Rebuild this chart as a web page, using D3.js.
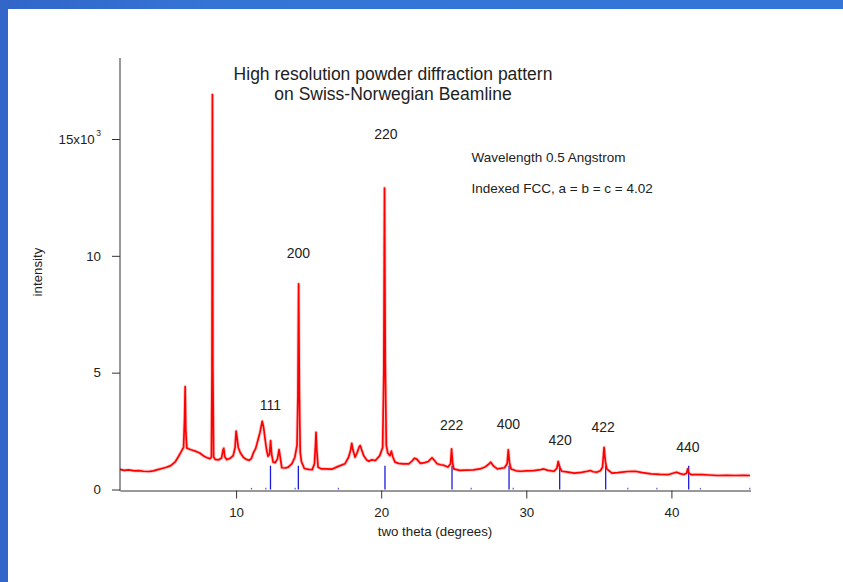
<!DOCTYPE html>
<html>
<head>
<meta charset="utf-8">
<script src="https://cdn.jsdelivr.net/npm/d3@7"></script>
<style>
  html, body { margin: 0; padding: 0; background: #ffffff; }
  svg { display: block; }
  text { font-family: "Liberation Sans", Arial, sans-serif; fill: #222; }
</style>
</head>
<body>
<div id="chart"></div>
<script>
// ---- data ----
const twoTheta = [
  2.0, 2.3, 2.6, 3.0, 3.3, 3.6, 4.0, 4.3, 4.6, 4.9, 5.2, 5.5, 5.8, 6.0, 6.2, 6.3, 6.38, 6.45, 6.49, 6.53,
  6.6, 6.8, 7.0, 7.2, 7.5, 7.8, 8.0, 8.2, 8.30, 8.34, 8.37, 8.40, 8.45, 8.55, 8.8, 9.0, 9.1, 9.15, 9.22, 9.35,
  9.6, 9.8, 9.93, 10.0, 10.05, 10.15, 10.3, 10.5, 10.7, 10.9, 11.05, 11.2, 11.35, 11.5, 11.65, 11.8, 11.9, 12.0, 12.1, 12.2,
  12.3, 12.38, 12.45, 12.55, 12.7, 12.85, 12.96, 13.05, 13.15, 13.4, 13.6, 13.85, 14.05, 14.2, 14.26, 14.31, 14.36, 14.42, 14.5, 14.7,
  15.0, 15.25, 15.4, 15.48, 15.51, 15.56, 15.65, 15.9, 16.2, 16.6, 17.0, 17.5, 17.75, 17.9, 17.97, 18.05, 18.2, 18.35, 18.5, 18.56,
  18.65, 18.8, 19.0, 19.15, 19.35, 19.6, 19.9, 20.1, 20.18, 20.23, 20.28, 20.35, 20.45, 20.6, 20.7, 20.8, 20.95, 21.2, 21.5, 21.9,
  22.1, 22.3, 22.45, 22.7, 23.0, 23.25, 23.5, 23.65, 23.85, 24.1, 24.3, 24.6, 24.78, 24.85, 24.92, 25.0, 25.4, 25.9, 26.35, 26.8,
  27.15, 27.4, 27.55, 27.75, 28.0, 28.5, 28.68, 28.76, 28.84, 28.95, 29.3, 29.6, 30.0, 30.5, 31.0, 31.2, 31.5, 31.9, 32.1, 32.2,
  32.3, 32.45, 32.9, 33.3, 33.8, 34.2, 34.4, 34.6, 34.85, 35.1, 35.25, 35.36, 35.45, 35.55, 35.9, 36.3, 36.6, 37.0, 37.5, 38.0,
  38.6, 39.2, 39.8, 40.35, 40.6, 40.85, 41.05, 41.12, 41.2, 41.35, 42.1, 42.6, 43.2, 43.8, 44.4, 45.0, 45.42
];
const intensity = [
  860, 820, 840, 800, 810, 780, 770, 800, 850, 900, 950, 1020, 1180, 1380, 1600, 1720, 1800, 3000, 4400, 2600,
  1780, 1720, 1680, 1640, 1560, 1420, 1360, 1320, 1380, 5000, 16900, 5200, 1400, 1290, 1270, 1350, 1700, 1760, 1400, 1280,
  1340, 1450, 1800, 2500, 2300, 1800, 1560, 1380, 1290, 1250, 1320, 1580, 1760, 2100, 2450, 2920, 2650, 2150, 1700, 1420,
  1500, 2090, 1500, 1170, 1150, 1310, 1710, 1350, 930, 920, 960, 1110, 1380, 1900, 4000, 8800, 4200, 1600, 1200, 900,
  860, 850, 1100, 2000, 2450, 1700, 950, 880, 880, 870, 980, 1100, 1380, 1700, 1980, 1700, 1380, 1590, 1850, 1880,
  1700, 1440, 1260, 1210, 1270, 1240, 1450, 1800, 5000, 12900, 5500, 1900, 1560, 1450, 1640, 1400, 1170, 1120, 1100, 1100,
  1200, 1340, 1300, 1120, 1150, 1200, 1360, 1260, 1100, 1060, 1040, 960, 1100, 1740, 1150, 880, 820, 830, 840, 880,
  960, 1080, 1170, 1000, 880, 930, 1100, 1700, 1150, 880, 800, 780, 800, 810, 850, 880, 820, 780, 900, 1200,
  950, 780, 740, 700, 730, 780, 810, 760, 740, 800, 950, 1800, 1200, 880, 700, 720, 740, 770, 780, 720,
  670, 650, 640, 740, 680, 640, 700, 880, 700, 640, 640, 620, 600, 610, 600, 610, 600
];

// FCC reflections (a = 4.02, wavelength 0.5)
const reflectionPos = [12.37, 14.29, 20.26, 24.88, 28.81, 32.30, 35.47, 41.19];
const reflectionHeight = [1020, 1020, 1020, 1020, 1020, 1020, 1020, 1020];
const reflectionLabels = ["111", "200", "220", "222", "400", "420", "422", "440"];
const labelValue = [3400, 9900, 15000, 2550, 2600, 1900, 2480, 1590];
const labelPos = [12.36, 14.3, 20.33, 24.85, 28.76, 32.33, 35.29, 41.14];

// faint minor marks along the baseline
const minorPos = [11.06, 12.05, 14.07, 17.05, 26.2, 29.1, 37.0, 39.0, 42.0, 45.4];
const minorHeight = [70, 70, 70, 70, 70, 70, 70, 70, 70, 70];

const xTicks = [10, 20, 30, 40];
const yTicks = [0, 5000, 10000, 15000];
const yTickLabels = ["0", "5", "10", "15x10"];

const titleLines = ["High resolution powder diffraction pattern", "on Swiss-Norwegian Beamline"];
const notes = ["Wavelength 0.5 Angstrom", "Indexed FCC, a = b = c = 4.02"];
const xLabel = "two theta (degrees)";
const yLabel = "intensity";

// ---- drawing ----
const W = 843, H = 582;
const svg = d3.select("#chart").append("svg").attr("width", W).attr("height", H);

// blue frame (top and left)
const defs = svg.append("defs");
const grad = defs.append("linearGradient").attr("id", "topband").attr("x1", 0).attr("x2", 1).attr("y1", 0).attr("y2", 0);
grad.append("stop").attr("offset", "0").attr("stop-color", "#3166c8");
grad.append("stop").attr("offset", "0.25").attr("stop-color", "#3474d5");
grad.append("stop").attr("offset", "1").attr("stop-color", "#3476d8");
svg.append("rect").attr("x", 0).attr("y", 0).attr("width", W).attr("height", 9).attr("fill", "url(#topband)");
svg.append("rect").attr("x", 0).attr("y", 0).attr("width", 8).attr("height", H).attr("fill", "#3267c9");

const x = d3.scaleLinear().domain([2, 45.45]).range([120, 750.5]);
const y = d3.scaleLinear().domain([0, 15000]).range([489.5, 139]);

// reference reflection lines
svg.append("g").selectAll("line").data(reflectionPos).join("line")
  .attr("x1", d => x(d)).attr("x2", d => x(d))
  .attr("y1", y(0)).attr("y2", (d, i) => y(reflectionHeight[i]))
  .attr("stroke", "#1c1cdc").attr("stroke-width", 1.3);
svg.append("g").selectAll("line").data(minorPos).join("line")
  .attr("x1", d => x(d)).attr("x2", d => x(d))
  .attr("y1", y(0)).attr("y2", (d, i) => y(minorHeight[i]))
  .attr("stroke", "#5a5ae8").attr("stroke-width", 1.2);

// data line (soft halo suggests the noise band, then the core trace)
const pts = twoTheta.map((t, i) => [t, intensity[i]]);
const lineGen = d3.line().x(d => x(d[0])).y(d => y(d[1]));
svg.append("path")
  .datum(pts)
  .attr("fill", "none")
  .attr("stroke", "#ff3030")
  .attr("stroke-opacity", 0.28)
  .attr("stroke-width", 3.4)
  .attr("stroke-linejoin", "round")
  .attr("d", lineGen);
svg.append("path")
  .datum(pts)
  .attr("fill", "none")
  .attr("stroke", "#ff0000")
  .attr("stroke-width", 1.7)
  .attr("stroke-linejoin", "round")
  .attr("d", lineGen);

// axes
const fs = "13.3px";
const xAxis = svg.append("g").attr("transform", "translate(0,490.5)")
  .call(d3.axisBottom(x).tickValues(xTicks).tickSize(8).tickSizeOuter(0).tickPadding(9).tickFormat(d3.format("d")));
xAxis.select(".domain").attr("stroke", "#333");
xAxis.selectAll(".tick line").attr("stroke", "#333");
xAxis.selectAll(".tick text").attr("font-size", fs).attr("fill", "#222")
  .style("font-family", "'Liberation Sans', Arial, sans-serif");

const yAxis = svg.append("g").attr("transform", "translate(120,0)")
  .call(d3.axisLeft(y).tickValues(yTicks).tickSize(8).tickSizeOuter(0).tickPadding(11)
    .tickFormat((d, i) => yTickLabels[i]));
yAxis.select(".domain").remove();
yAxis.append("line").attr("x1", 0).attr("x2", 0).attr("y1", 58).attr("y2", 491)
  .attr("stroke", "#333");
yAxis.selectAll(".tick line").attr("stroke", "#333");
yAxis.selectAll(".tick text").attr("font-size", fs).attr("fill", "#222")
  .style("font-family", "'Liberation Sans', Arial, sans-serif");
yAxis.selectAll(".tick text").filter(d => d === 15000)
  .append("tspan").attr("dx", "1.5").attr("dy", "-8").attr("font-size", "8.5px").text("3");

// axis titles
svg.append("text").attr("x", 435).attr("y", 536).attr("text-anchor", "middle")
  .attr("font-size", fs).text(xLabel);
svg.append("text").attr("transform", "translate(42,272) rotate(-90)").attr("text-anchor", "middle")
  .attr("font-size", fs).text(yLabel);

// title
svg.append("g").selectAll("text").data(titleLines).join("text")
  .attr("x", 393).attr("y", (d, i) => 80 + i * 19.5)
  .attr("text-anchor", "middle").attr("font-size", "17.5px").text(d => d);

// notes
svg.append("g").selectAll("text").data(notes).join("text")
  .attr("x", 471.5).attr("y", (d, i) => 162 + i * 30.5)
  .attr("font-size", "13.5px").text(d => d);

// reflection labels
svg.append("g").selectAll("text").data(reflectionLabels).join("text")
  .attr("x", (d, i) => x(labelPos[i]))
  .attr("y", (d, i) => y(labelValue[i]))
  .attr("text-anchor", "middle").attr("font-size", "14px").text(d => d);
</script>
</body>
</html>
